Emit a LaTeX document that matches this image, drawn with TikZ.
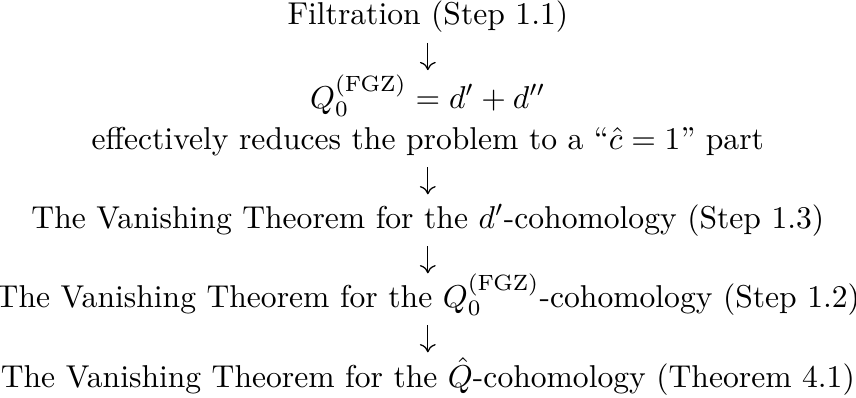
\documentclass[tikz,border=0pt]{standalone}
\usepackage{amsmath,amssymb}
\usepackage{tikz}
\usetikzlibrary{positioning,arrows.meta}

\begin{document}
\begin{tikzpicture}[
    x=1pt, y=1pt,
    line/.style={inner sep=0pt, font=\normalsize},
    arr/.style={-{Computer Modern Rightarrow[length=2.6pt, width=5pt]}, line width=0.4pt, shorten <=5.7pt, shorten >=10.7pt}
]
    \useasboundingbox (0,0) rectangle (270.9,-125.9);
    \node[line, anchor=base] (filt) at (135.4,-7.9) {Filtration (Step 1.1)};
    \node[line, below=26.3pt of filt.base, anchor=base] (qfgz) {$Q_0^{(\mathrm{FGZ})} = d' + d''$};
    \node[line, below=13pt of qfgz.base, anchor=base] (hatc) {effectively reduces the problem to a ``$\hat{c}=1$'' part};
    \node[line, below=25pt of hatc.base, anchor=base] (vdp) {The Vanishing Theorem for the $d'$-cohomology (Step 1.3)};
    \node[line, below=25pt of vdp.base, anchor=base] (vq) {The Vanishing Theorem for the $Q_0^{(\mathrm{FGZ})}$-cohomology (Step 1.2)};
    \node[line, below=25.3pt of vq.base, anchor=base] (vqhat) {The Vanishing Theorem for the $\hat{Q}$-cohomology (Theorem 4.1)};

    \draw[arr, shorten >=12pt] (filt.base) -- (qfgz.base);
    \draw[arr] (hatc.base) -- (vdp.base);
    \draw[arr] (vdp.base) -- (vq.base);
    \draw[arr, shorten >=11pt] (vq.base) -- (vqhat.base);
\end{tikzpicture}
\end{document}
